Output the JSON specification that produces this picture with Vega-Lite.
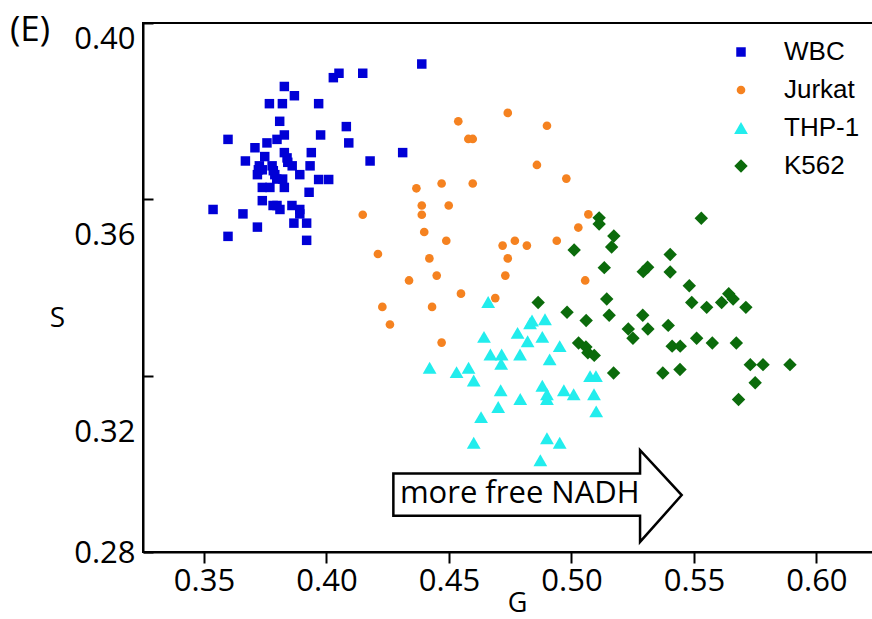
{
  "$schema": "https://vega.github.io/schema/vega-lite/v6.json",
  "width": 731,
  "height": 529,
  "autosize": "none",
  "padding": {"left": 143, "top": 23, "right": 0, "bottom": 67},
  "background": "white",
  "config": {"view": {"stroke": "black", "strokeWidth": 2}, "font": "Open Sans"},
  "title": {"text": "(E)", "anchor": "start", "frame": "group", "orient": "top", "offset": -43, "dx": -133, "baseline": "middle", "fontSize": 35, "font": "Open Sans", "fontWeight": "normal", "color": "black"},
  "datasets": {
    "cells": [
      {"cell": "WBC", "G": 0.4389, "S": 0.3907},
      {"cell": "WBC", "G": 0.4051, "S": 0.3886},
      {"cell": "WBC", "G": 0.4028, "S": 0.3876},
      {"cell": "WBC", "G": 0.4148, "S": 0.3886},
      {"cell": "WBC", "G": 0.3828, "S": 0.3856},
      {"cell": "WBC", "G": 0.3869, "S": 0.3835},
      {"cell": "WBC", "G": 0.3767, "S": 0.3817},
      {"cell": "WBC", "G": 0.3820, "S": 0.3817},
      {"cell": "WBC", "G": 0.3968, "S": 0.3817},
      {"cell": "WBC", "G": 0.3809, "S": 0.3777},
      {"cell": "WBC", "G": 0.4081, "S": 0.3765},
      {"cell": "WBC", "G": 0.3598, "S": 0.3736},
      {"cell": "WBC", "G": 0.3828, "S": 0.3746},
      {"cell": "WBC", "G": 0.3798, "S": 0.3736},
      {"cell": "WBC", "G": 0.3976, "S": 0.3746},
      {"cell": "WBC", "G": 0.3757, "S": 0.3728},
      {"cell": "WBC", "G": 0.3708, "S": 0.3717},
      {"cell": "WBC", "G": 0.4091, "S": 0.3728},
      {"cell": "WBC", "G": 0.3828, "S": 0.3706},
      {"cell": "WBC", "G": 0.3938, "S": 0.3706},
      {"cell": "WBC", "G": 0.4311, "S": 0.3706},
      {"cell": "WBC", "G": 0.3748, "S": 0.3697},
      {"cell": "WBC", "G": 0.3839, "S": 0.3694},
      {"cell": "WBC", "G": 0.3669, "S": 0.3687},
      {"cell": "WBC", "G": 0.4178, "S": 0.3687},
      {"cell": "WBC", "G": 0.3842, "S": 0.3684},
      {"cell": "WBC", "G": 0.3726, "S": 0.3676},
      {"cell": "WBC", "G": 0.3778, "S": 0.3676},
      {"cell": "WBC", "G": 0.3860, "S": 0.3676},
      {"cell": "WBC", "G": 0.3933, "S": 0.3676},
      {"cell": "WBC", "G": 0.3722, "S": 0.3667},
      {"cell": "WBC", "G": 0.3738, "S": 0.3667},
      {"cell": "WBC", "G": 0.3783, "S": 0.3665},
      {"cell": "WBC", "G": 0.3718, "S": 0.3656},
      {"cell": "WBC", "G": 0.3789, "S": 0.3656},
      {"cell": "WBC", "G": 0.3891, "S": 0.3656},
      {"cell": "WBC", "G": 0.3797, "S": 0.3646},
      {"cell": "WBC", "G": 0.3821, "S": 0.3646},
      {"cell": "WBC", "G": 0.3968, "S": 0.3645},
      {"cell": "WBC", "G": 0.4009, "S": 0.3645},
      {"cell": "WBC", "G": 0.3738, "S": 0.3627},
      {"cell": "WBC", "G": 0.3769, "S": 0.3627},
      {"cell": "WBC", "G": 0.3828, "S": 0.3627},
      {"cell": "WBC", "G": 0.3929, "S": 0.3616},
      {"cell": "WBC", "G": 0.3738, "S": 0.3597},
      {"cell": "WBC", "G": 0.3782, "S": 0.3586},
      {"cell": "WBC", "G": 0.3798, "S": 0.3586},
      {"cell": "WBC", "G": 0.3859, "S": 0.3586},
      {"cell": "WBC", "G": 0.3810, "S": 0.3577},
      {"cell": "WBC", "G": 0.3537, "S": 0.3577},
      {"cell": "WBC", "G": 0.3659, "S": 0.3567},
      {"cell": "WBC", "G": 0.3891, "S": 0.3577},
      {"cell": "WBC", "G": 0.3891, "S": 0.3567},
      {"cell": "WBC", "G": 0.3718, "S": 0.3537},
      {"cell": "WBC", "G": 0.3867, "S": 0.3546},
      {"cell": "WBC", "G": 0.3919, "S": 0.3546},
      {"cell": "WBC", "G": 0.3598, "S": 0.3516},
      {"cell": "WBC", "G": 0.3919, "S": 0.3507},
      {"cell": "Jurkat", "G": 0.4538, "S": 0.3777},
      {"cell": "Jurkat", "G": 0.4740, "S": 0.3796},
      {"cell": "Jurkat", "G": 0.4900, "S": 0.3767},
      {"cell": "Jurkat", "G": 0.4579, "S": 0.3737},
      {"cell": "Jurkat", "G": 0.4597, "S": 0.3737},
      {"cell": "Jurkat", "G": 0.4859, "S": 0.3678},
      {"cell": "Jurkat", "G": 0.4979, "S": 0.3647},
      {"cell": "Jurkat", "G": 0.4367, "S": 0.3625},
      {"cell": "Jurkat", "G": 0.4470, "S": 0.3636},
      {"cell": "Jurkat", "G": 0.4597, "S": 0.3636},
      {"cell": "Jurkat", "G": 0.4389, "S": 0.3586},
      {"cell": "Jurkat", "G": 0.4389, "S": 0.3565},
      {"cell": "Jurkat", "G": 0.4499, "S": 0.3586},
      {"cell": "Jurkat", "G": 0.4148, "S": 0.3565},
      {"cell": "Jurkat", "G": 0.5069, "S": 0.3566},
      {"cell": "Jurkat", "G": 0.5028, "S": 0.3536},
      {"cell": "Jurkat", "G": 0.4399, "S": 0.3526},
      {"cell": "Jurkat", "G": 0.4489, "S": 0.3506},
      {"cell": "Jurkat", "G": 0.4719, "S": 0.3495},
      {"cell": "Jurkat", "G": 0.4769, "S": 0.3506},
      {"cell": "Jurkat", "G": 0.4818, "S": 0.3495},
      {"cell": "Jurkat", "G": 0.4940, "S": 0.3506},
      {"cell": "Jurkat", "G": 0.4210, "S": 0.3476},
      {"cell": "Jurkat", "G": 0.4420, "S": 0.3466},
      {"cell": "Jurkat", "G": 0.4740, "S": 0.3466},
      {"cell": "Jurkat", "G": 0.4450, "S": 0.3427},
      {"cell": "Jurkat", "G": 0.4730, "S": 0.3427},
      {"cell": "Jurkat", "G": 0.4337, "S": 0.3416},
      {"cell": "Jurkat", "G": 0.5056, "S": 0.3416},
      {"cell": "Jurkat", "G": 0.4549, "S": 0.3386},
      {"cell": "Jurkat", "G": 0.4689, "S": 0.3376},
      {"cell": "Jurkat", "G": 0.4228, "S": 0.3356},
      {"cell": "Jurkat", "G": 0.4431, "S": 0.3356},
      {"cell": "Jurkat", "G": 0.4259, "S": 0.3316},
      {"cell": "Jurkat", "G": 0.4470, "S": 0.3275},
      {"cell": "THP-1", "G": 0.4660, "S": 0.3367},
      {"cell": "THP-1", "G": 0.4839, "S": 0.3325},
      {"cell": "THP-1", "G": 0.4831, "S": 0.3319},
      {"cell": "THP-1", "G": 0.4892, "S": 0.3328},
      {"cell": "THP-1", "G": 0.4643, "S": 0.3288},
      {"cell": "THP-1", "G": 0.4780, "S": 0.3297},
      {"cell": "THP-1", "G": 0.4821, "S": 0.3278},
      {"cell": "THP-1", "G": 0.4881, "S": 0.3288},
      {"cell": "THP-1", "G": 0.4952, "S": 0.3267},
      {"cell": "THP-1", "G": 0.4669, "S": 0.3248},
      {"cell": "THP-1", "G": 0.4715, "S": 0.3248},
      {"cell": "THP-1", "G": 0.4790, "S": 0.3248},
      {"cell": "THP-1", "G": 0.4713, "S": 0.3227},
      {"cell": "THP-1", "G": 0.4911, "S": 0.3237},
      {"cell": "THP-1", "G": 0.4421, "S": 0.3218},
      {"cell": "THP-1", "G": 0.4531, "S": 0.3208},
      {"cell": "THP-1", "G": 0.4580, "S": 0.3218},
      {"cell": "THP-1", "G": 0.4601, "S": 0.3189},
      {"cell": "THP-1", "G": 0.5076, "S": 0.3199},
      {"cell": "THP-1", "G": 0.5100, "S": 0.3199},
      {"cell": "THP-1", "G": 0.4711, "S": 0.3167},
      {"cell": "THP-1", "G": 0.4791, "S": 0.3147},
      {"cell": "THP-1", "G": 0.4881, "S": 0.3177},
      {"cell": "THP-1", "G": 0.4900, "S": 0.3158},
      {"cell": "THP-1", "G": 0.4900, "S": 0.3147},
      {"cell": "THP-1", "G": 0.4969, "S": 0.3167},
      {"cell": "THP-1", "G": 0.5009, "S": 0.3158},
      {"cell": "THP-1", "G": 0.5092, "S": 0.3158},
      {"cell": "THP-1", "G": 0.4701, "S": 0.3129},
      {"cell": "THP-1", "G": 0.4631, "S": 0.3106},
      {"cell": "THP-1", "G": 0.5101, "S": 0.3119},
      {"cell": "THP-1", "G": 0.4601, "S": 0.3048},
      {"cell": "THP-1", "G": 0.4900, "S": 0.3058},
      {"cell": "THP-1", "G": 0.4952, "S": 0.3048},
      {"cell": "THP-1", "G": 0.4873, "S": 0.3008},
      {"cell": "K562", "G": 0.5113, "S": 0.3558},
      {"cell": "K562", "G": 0.5113, "S": 0.3544},
      {"cell": "K562", "G": 0.5530, "S": 0.3557},
      {"cell": "K562", "G": 0.5173, "S": 0.3517},
      {"cell": "K562", "G": 0.5164, "S": 0.3492},
      {"cell": "K562", "G": 0.5011, "S": 0.3485},
      {"cell": "K562", "G": 0.5403, "S": 0.3475},
      {"cell": "K562", "G": 0.5134, "S": 0.3445},
      {"cell": "K562", "G": 0.5293, "S": 0.3436},
      {"cell": "K562", "G": 0.5311, "S": 0.3446},
      {"cell": "K562", "G": 0.5403, "S": 0.3435},
      {"cell": "K562", "G": 0.5481, "S": 0.3404},
      {"cell": "K562", "G": 0.5144, "S": 0.3374},
      {"cell": "K562", "G": 0.5491, "S": 0.3366},
      {"cell": "K562", "G": 0.5552, "S": 0.3355},
      {"cell": "K562", "G": 0.5613, "S": 0.3366},
      {"cell": "K562", "G": 0.5642, "S": 0.3386},
      {"cell": "K562", "G": 0.5660, "S": 0.3374},
      {"cell": "K562", "G": 0.5712, "S": 0.3355},
      {"cell": "K562", "G": 0.4864, "S": 0.3366},
      {"cell": "K562", "G": 0.4982, "S": 0.3344},
      {"cell": "K562", "G": 0.5060, "S": 0.3325},
      {"cell": "K562", "G": 0.5154, "S": 0.3337},
      {"cell": "K562", "G": 0.5291, "S": 0.3337},
      {"cell": "K562", "G": 0.5232, "S": 0.3306},
      {"cell": "K562", "G": 0.5312, "S": 0.3306},
      {"cell": "K562", "G": 0.5251, "S": 0.3285},
      {"cell": "K562", "G": 0.5395, "S": 0.3314},
      {"cell": "K562", "G": 0.5511, "S": 0.3285},
      {"cell": "K562", "G": 0.5575, "S": 0.3274},
      {"cell": "K562", "G": 0.5673, "S": 0.3274},
      {"cell": "K562", "G": 0.5029, "S": 0.3274},
      {"cell": "K562", "G": 0.5059, "S": 0.3265},
      {"cell": "K562", "G": 0.5067, "S": 0.3252},
      {"cell": "K562", "G": 0.5093, "S": 0.3246},
      {"cell": "K562", "G": 0.5411, "S": 0.3267},
      {"cell": "K562", "G": 0.5444, "S": 0.3267},
      {"cell": "K562", "G": 0.5172, "S": 0.3206},
      {"cell": "K562", "G": 0.5373, "S": 0.3206},
      {"cell": "K562", "G": 0.5443, "S": 0.3214},
      {"cell": "K562", "G": 0.5730, "S": 0.3225},
      {"cell": "K562", "G": 0.5782, "S": 0.3225},
      {"cell": "K562", "G": 0.5892, "S": 0.3225},
      {"cell": "K562", "G": 0.5750, "S": 0.3184},
      {"cell": "K562", "G": 0.5682, "S": 0.3146}
    ],
    "arrow": [
      {"i": 0, "G": 0.4273, "S": 0.2978},
      {"i": 1, "G": 0.5280, "S": 0.2978},
      {"i": 2, "G": 0.5280, "S": 0.3031},
      {"i": 3, "G": 0.5450, "S": 0.2929},
      {"i": 4, "G": 0.5280, "S": 0.2823},
      {"i": 5, "G": 0.5280, "S": 0.2882},
      {"i": 6, "G": 0.4273, "S": 0.2882},
      {"i": 7, "G": 0.4273, "S": 0.2978}
    ],
    "note": [
      {"t": "more free NADH", "G": 0.4789, "S": 0.2931}
    ]
  },
  "layer": [
    {
      "data": {"name": "arrow"},
      "mark": {"type": "line", "stroke": "black", "strokeWidth": 2.5, "strokeJoin": "miter", "strokeCap": "square"},
      "encoding": {
        "x": {"field": "G", "type": "quantitative", "scale": {"domain": [0.3251, 0.6235], "nice": false, "zero": false},
          "axis": {"values": [0.35, 0.40, 0.45, 0.50, 0.55, 0.60], "format": ".2f", "title": "G", "titleFont": "Open Sans", "titleFontSize": 27, "titleFontWeight": "normal", "titleColor": "black", "titlePadding": -6, "titleX": 374, "labelFont": "Open Sans", "labelFontSize": 31, "labelColor": "black", "labelPadding": 3, "labelFlush": false, "labelOverlap": false, "tickSize": 11, "tickColor": "black", "tickWidth": 2, "domainColor": "black", "domainWidth": 2, "grid": false}},
        "y": {"field": "S", "type": "quantitative", "scale": {"domain": [0.28, 0.40], "nice": false, "zero": false},
          "axis": {"values": [0.28, 0.32, 0.36, 0.40], "format": ".2f", "title": "S", "titleAngle": 0, "titleX": -86, "titleY": 295, "titleAlign": "center", "titleBaseline": "middle", "titleFont": "Open Sans", "titleFontSize": 28, "titleFontWeight": "normal", "titleColor": "black", "labelFont": "Open Sans", "labelFontSize": 31, "labelColor": "black", "labelPadding": 18, "labelFlush": false, "labelOverlap": false, "tickSize": -10, "tickColor": "black", "tickWidth": 2, "domainColor": "black", "domainWidth": 2, "grid": false,
            "labelOffset": {"expr": "datum.value > 0.39 ? 16 : datum.value > 0.35 ? 36 : datum.value > 0.31 ? 57 : 1"}}},
        "order": {"field": "i", "type": "quantitative"}
      }
    },
    {
      "data": {"name": "note"},
      "mark": {"type": "text", "font": "Open Sans", "fontSize": 31, "color": "black", "align": "center", "baseline": "middle"},
      "encoding": {
        "x": {"field": "G", "type": "quantitative", "scale": {"domain": [0.3251, 0.6235], "nice": false, "zero": false}},
        "y": {"field": "S", "type": "quantitative", "scale": {"domain": [0.28, 0.40], "nice": false, "zero": false}},
        "text": {"field": "t"}
      }
    },
    {
      "data": {"name": "cells"},
      "mark": {"type": "point", "filled": true, "opacity": 1, "strokeWidth": 0},
      "encoding": {
        "x": {"field": "G", "type": "quantitative", "scale": {"domain": [0.3251, 0.6235], "nice": false, "zero": false}},
        "y": {"field": "S", "type": "quantitative", "scale": {"domain": [0.28, 0.40], "nice": false, "zero": false}},
        "color": {"field": "cell", "type": "nominal", "scale": {"domain": ["WBC", "Jurkat", "THP-1", "K562"], "range": ["#0000d6", "#f58220", "#22eded", "#0b6b0b"]},
          "legend": {"title": null, "orient": "none", "legendX": 585, "legendY": 16, "padding": 0, "labelFont": "Liberation Sans", "labelFontSize": 26, "labelColor": "black", "symbolSize": 64, "symbolStrokeWidth": 0, "rowPadding": 12, "labelOffset": 30}},
        "shape": {"field": "cell", "type": "nominal", "scale": {"domain": ["WBC", "Jurkat", "THP-1", "K562"], "range": ["square", "circle", "triangle-up", "diamond"]}},
        "size": {"field": "cell", "type": "ordinal", "scale": {"type": "ordinal", "domain": ["WBC", "Jurkat", "THP-1", "K562"], "range": [90, 75, 190, 180]}, "legend": null}
      }
    }
  ]
}
